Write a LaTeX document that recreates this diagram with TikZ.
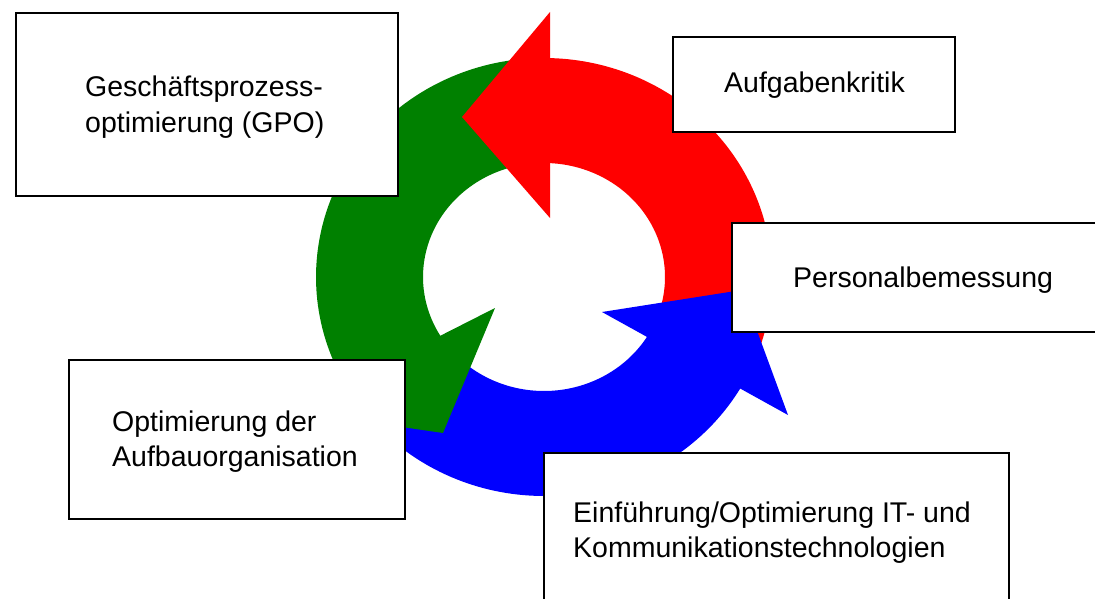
\documentclass[tikz,border=0pt]{standalone}
\usepackage{fontspec}
\setmainfont{Liberation Sans}
\definecolor{cred}{RGB}{255,0,0}
\definecolor{cgreen}{RGB}{0,128,0}
\definecolor{cblue}{RGB}{0,0,255}
\begin{document}
\begin{tikzpicture}[x=1pt,y=-1pt,
  box/.style={draw=black, line width=1.6pt, fill=white, rectangle, inner sep=0pt, anchor=north west},
  lbl/.style={anchor=base west, inner sep=0pt, font=\fontsize{28.5}{35}\selectfont, text=black}]
\useasboundingbox (0,0) rectangle (1095,599);
\def\cx{544}\def\cy{277}\def\Rx{228}\def\Ry{219}\def\rx{121}\def\ry{114}
% ring bodies (each runs a little into its own head to avoid seams)
\fill[cred] plot[domain=20:-89.5, samples=80] ({\cx+\Rx*cos(\x)},{\cy+\Ry*sin(\x)})
  -- plot[domain=-89:20, samples=80] ({\cx+\rx*cos(\x)},{\cy+\ry*sin(\x)}) -- cycle;
\fill[cgreen] plot[domain=-95:-211, samples=80] ({\cx+\Rx*cos(\x)},{\cy+\Ry*sin(\x)})
  -- plot[domain=-213:-95, samples=80] ({\cx+\rx*cos(\x)},{\cy+\ry*sin(\x)}) -- cycle;
\fill[cblue] plot[domain=145:29, samples=80] ({\cx+\Rx*cos(\x)},{\cy+\Ry*sin(\x)})
  -- plot[domain=30:145, samples=80] ({\cx+\rx*cos(\x)},{\cy+\ry*sin(\x)}) -- cycle;
% arrow heads
\coordinate (rA) at (550,12); \coordinate (rT) at (462,117); \coordinate (rB) at (550,218);
\coordinate (gA) at (495,308); \coordinate (gB) at (292,411); \coordinate (gT) at (443,433);
\coordinate (bA) at (602,312); \coordinate (bT) at (742,290); \coordinate (bB) at (788,415);
\fill[cred] (rA) -- (rT) -- (rB) -- cycle;
\fill[cgreen] (gA) -- (gB) -- (gT) -- cycle;
\fill[cblue] (bA) -- (bT) -- (bB) -- cycle;
% boxes
\node[box, minimum width=382pt, minimum height=183pt] (gpo) at (15,12) {};
\node[box, minimum width=282pt, minimum height=95pt] (auf) at (672,36) {};
\node[box, minimum width=380pt, minimum height=109pt] (pers) at (731,222) {};
\node[box, minimum width=336pt, minimum height=159pt] (org) at (68,359) {};
\node[box, minimum width=465pt, minimum height=170pt] (it) at (543,452) {};
% labels
\node[lbl] (gpo1) at (85,97) {Geschäftsprozess-};
\node[lbl] (gpo2) at (85,132) {optimierung (GPO)};
\node[lbl] (auft) at (724,93) {Aufgabenkritik};
\node[lbl] (perst) at (793,287) {Personalbemessung};
\node[lbl] (org1) at (112,431) {Optimierung der};
\node[lbl] (org2) at (112,466) {Aufbauorganisation};
\node[lbl] (it1) at (573,522) {Einführung/Optimierung IT- und};
\node[lbl] (it2) at (573,557) {Kommunikationstechnologien};
\end{tikzpicture}
\end{document}
